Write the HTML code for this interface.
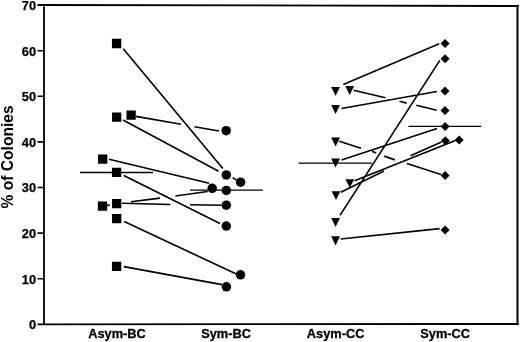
<!DOCTYPE html>
<html><head><meta charset="utf-8"><style>
html,body{margin:0;padding:0;background:#fff;}
svg{display:block;filter:grayscale(1);}
.t{font-family:"Liberation Sans",sans-serif;font-weight:bold;font-size:12.8px;stroke:#000;stroke-width:0.25px;}
.x{font-family:"Liberation Sans",sans-serif;font-weight:bold;font-size:12.8px;stroke:#000;stroke-width:0.3px;}
.yl{font-family:"Liberation Sans",sans-serif;font-weight:bold;font-size:15.6px;}
</style></head><body>
<svg width="520" height="342" viewBox="0 0 520 342">
<rect width="520" height="342" fill="#fff"/>
<path d="M37.5 5.0 L518.8 6.0 M44 5 L44 324.3 M37.5 324.3 L518.8 324.0" stroke="#000" stroke-width="1.8" fill="none"/>
<path d="M517.5 5 L517.5 324.8" stroke="#000" stroke-width="2" fill="none"/>
<path d="M37.5 278.7 L44 278.7 M37.5 233.1 L44 233.1 M37.5 187.5 L44 187.5 M37.5 141.9 L44 141.9 M37.5 96.3 L44 96.3 M37.5 50.7 L44 50.7 " stroke="#000" stroke-width="1.6" fill="none"/>
<path d="M123.25 48.75 L222.8 168.5 M123 120 L218.6 171.3 M232.7 177.6 L236.5 180.1 M109 159.2 L209.2 183.2 M123.8 175.5 L220 223.5 M124.2 221.5 L235.8 273.8 M123.8 266.6 L222 284.6 M343.3 84.6 L439.2 43.8 M341.5 108.5 L436.9 91.5 M341.5 160 L437 128.5 M354.6 180.8 L455.4 140.4 M340 215.4 L439.8 60.4 M340.6 239 L439.7 228.6 M136 116.4 L181 124.3 M194.4 126.7 L219 131 M106.5 205.5 L109.8 205.1 M131 201.7 L160 198.1 M175.4 196 L207.7 191.5 M121.9 203.2 L170.4 204.5 M190 204.8 L221.5 205.2 M353.5 90.2 L385.4 97.8 M399.5 101.3 L406.6 103.1 M416.3 105.2 L436.7 110.2 M339.2 141.3 L361 148.3 M372 151.2 L376.2 152.9 M384.2 156.1 L394.8 159.9 M406.9 163.5 L441 174.5 M340.8 192.3 L384 171 M410.5 155.8 L441.5 142 " stroke="#000" stroke-width="1.65" fill="none"/>
<path d="M80 172.5 L153 172.5 M190 190.1 L262.8 190.1 M298.5 163.15 L372 163.15 M408.5 126.4 L481.2 126.4 " stroke="#000" stroke-width="1.35" fill="none"/>
<path d="M111.95 38.85h9.3v9.3h-9.3zM112.05 112.55h9.3v9.3h-9.3zM126.45 110.55h9.3v9.3h-9.3zM98.05 154.55h9.3v9.3h-9.3zM111.95 167.75h9.3v9.3h-9.3zM97.85 201.45h9.3v9.3h-9.3zM112.05 198.95h9.3v9.3h-9.3zM112.05 213.95h9.3v9.3h-9.3zM111.95 261.75h9.3v9.3h-9.3z" fill="#000"/>
<circle cx="226.2" cy="130.7" r="4.75"/>
<circle cx="226.3" cy="174.9" r="4.75"/>
<circle cx="240.6" cy="182.2" r="4.75"/>
<circle cx="212.2" cy="188.3" r="4.75"/>
<circle cx="226.3" cy="190.4" r="4.75"/>
<circle cx="226.3" cy="205.2" r="4.75"/>
<circle cx="226.3" cy="226" r="4.75"/>
<circle cx="240.5" cy="274.8" r="4.75"/>
<circle cx="226.4" cy="286.8" r="4.75"/>
<path d="M331.15 86.9L339.95 86.9L335.55 95.7zM345.3 86.1L354.1 86.1L349.7 94.9zM331.15 104.9L339.95 104.9L335.55 113.9zM331.2 137.6L340 137.6L335.6 146.4zM331.2 158.5L340 158.5L335.6 167.4zM345.4 179.2L354.2 179.2L349.8 187.8zM331.6 191.2L340.4 191.2L336 200zM331.15 218L339.95 218L335.55 226.9zM331.2 236.3L340 236.3L335.6 245.6z" fill="#000"/>
<path d="M445.05 38.9L449.55 43.4L445.05 47.9L440.55 43.4zM445.1 54.3L449.6 58.8L445.1 63.3L440.6 58.8zM445 86.5L449.5 91L445 95.5L440.5 91zM445 105.9L449.5 110.4L445 114.9L440.5 110.4zM445.1 122L449.6 126.5L445.1 131L440.6 126.5zM445.3 136.3L449.8 140.8L445.3 145.3L440.8 140.8zM459.2 135.5L463.7 140L459.2 144.5L454.7 140zM445.1 171.1L449.6 175.6L445.1 180.1L440.6 175.6zM445.1 225.4L449.6 229.9L445.1 234.4L440.6 229.9z" fill="#000"/>
<text x="36.1" y="329.2" text-anchor="end" class="t">0</text>
<text x="36.1" y="283.6" text-anchor="end" class="t">10</text>
<text x="36.1" y="238" text-anchor="end" class="t">20</text>
<text x="36.1" y="192.4" text-anchor="end" class="t">30</text>
<text x="36.1" y="146.8" text-anchor="end" class="t">40</text>
<text x="36.1" y="101.2" text-anchor="end" class="t">50</text>
<text x="36.1" y="55.6" text-anchor="end" class="t">60</text>
<text x="36.1" y="10" text-anchor="end" class="t">70</text>
<text x="117" y="338.3" text-anchor="middle" class="x">Asym-BC</text>
<text x="226.1" y="338.3" text-anchor="middle" class="x">Sym-BC</text>
<text x="335.6" y="338.3" text-anchor="middle" class="x">Asym-CC</text>
<text x="445.2" y="338.3" text-anchor="middle" class="x">Sym-CC</text>
<text transform="translate(13.2 156.9) rotate(-90)" text-anchor="middle" class="yl">% of Colonies</text>
</svg>
</body></html>
